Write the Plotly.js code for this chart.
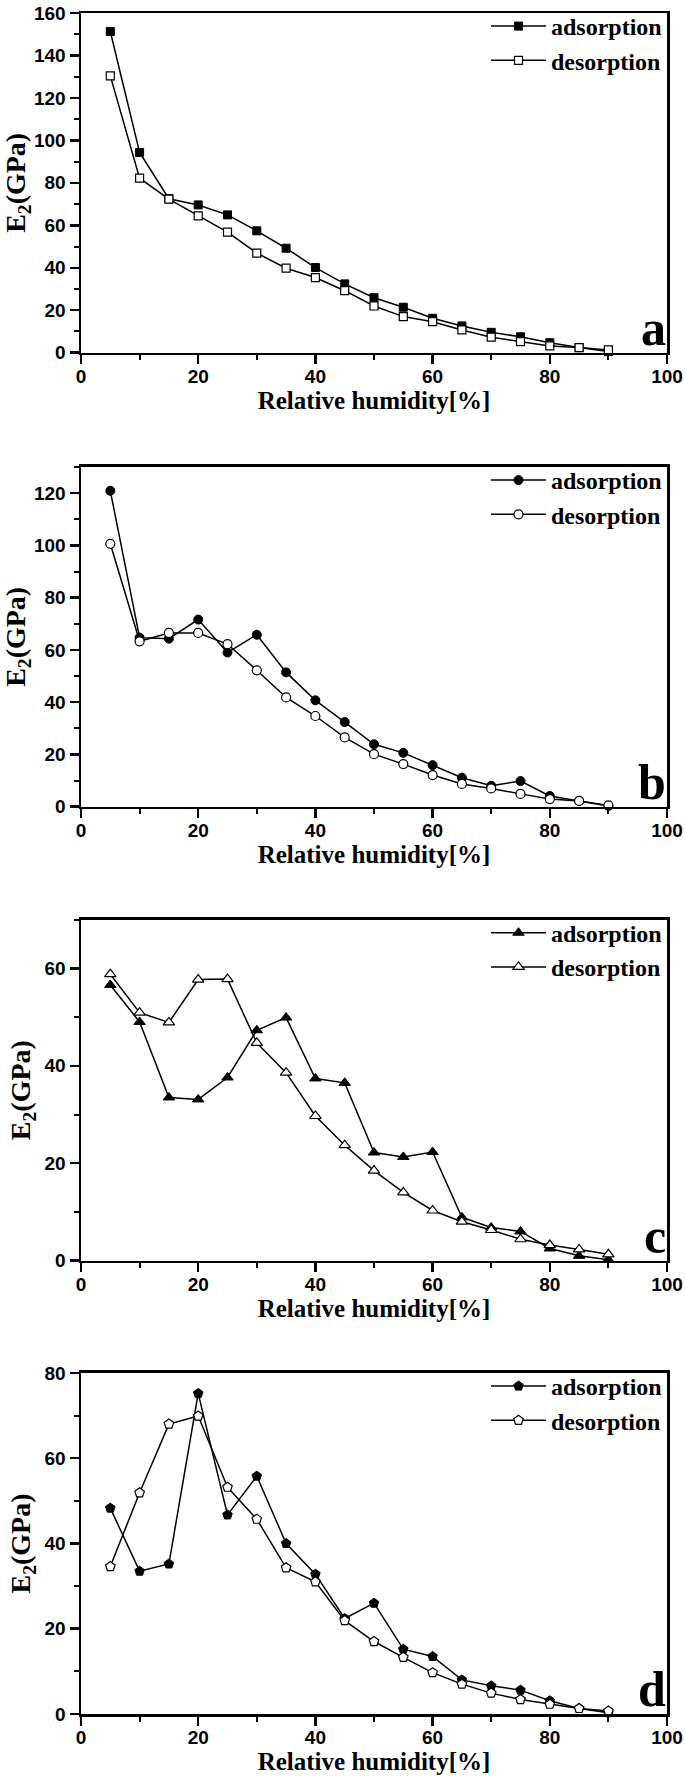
<!DOCTYPE html>
<html>
<head>
<meta charset="utf-8">
<script src="https://cdn.plot.ly/plotly-3.0.1.min.js"></script>
<style>html,body{margin:0;padding:0;background:#fff;}#chart{width:685px;height:1776px;}</style>
</head>
<body>
<div id="chart"></div>
<script>
// Relative humidity [%]
const humidity = [5,10,15,20,25,30,35,40,45,50,55,60,65,70,75,80,85,90];

// Panel a (squares)
const adsA = [151.3,94.3,72.5,69.6,64.9,57.4,49.2,40.1,32.4,25.9,21.4,16.2,12.6,9.6,7.5,4.7,2.4,0.5];
const desA = [130.4,82.2,72.3,64.4,56.8,46.9,39.8,35.4,29.2,22.0,17.0,14.6,10.7,7.3,5.2,3.2,2.4,1.3];
// Panel b (circles)
const adsB = [120.9,64.7,64.3,71.6,59.0,65.8,51.4,40.7,32.4,23.9,20.6,15.9,11.1,8.0,9.8,4.1,2.2,0.3];
const desB = [100.6,63.3,66.5,66.5,62.2,52.2,41.8,34.7,26.5,20.1,16.3,12.1,8.7,7.0,4.9,2.9,2.2,0.5];
// Panel c (triangles)
const adsC = [56.6,49.0,33.5,33.1,37.6,47.3,49.9,37.4,36.5,22.2,21.3,22.3,8.9,6.8,6.0,2.5,1.0,0.2];
const desC = [58.8,50.9,48.9,57.7,57.8,44.7,38.6,29.7,23.7,18.5,14.0,10.3,8.0,6.3,4.4,3.2,2.3,1.3];
// Panel d (pentagons)
const adsD = [48.3,33.5,35.2,75.2,46.7,55.8,40.0,32.8,22.4,26.0,15.2,13.5,8.0,6.6,5.6,3.1,1.3,0.3];
const desD = [34.6,51.9,68.0,69.9,53.2,45.7,34.3,31.0,21.9,17.0,13.3,9.7,7.0,4.9,3.4,2.3,1.3,0.7];

const seriesNames = ['adsorption','desorption'];
const panelLetters = ['a','b','c','d'];
const yMax = [160,130,70,80];

const panels = [
  {ads: adsA, des: desA, symbol: 'square', size: 8},
  {ads: adsB, des: desB, symbol: 'circle', size: 9},
  {ads: adsC, des: desC, symbol: 'triangle-up', size: 10},
  {ads: adsD, des: desD, symbol: 'pentagon', size: 10}
];
const domains = [[0.8003,1],[0.5334,0.7331],[0.2665,0.4670],[0,0.2005]];
const plotH = 1776 - 13 - 62;

const traces = [];
const layout = {
  width: 685, height: 1776,
  margin: {l: 81, r: 18, t: 13, b: 62, autoexpand: false},
  paper_bgcolor: '#fff', plot_bgcolor: '#fff',
  showlegend: true,
  annotations: []
};

const tickFont = {family: 'Liberation Sans, Arial, sans-serif', size: 19, weight: 700, color: '#000'};
const serifBold = (s) => ({family: 'Liberation Serif, Times New Roman, serif', size: s, weight: 700, color: '#000'});

panels.forEach((p, i) => {
  const n = i === 0 ? '' : String(i + 1);
  const legendId = 'legend' + n;
  const common = {x: humidity, xaxis: 'x' + n, yaxis: 'y' + n, mode: 'lines+markers',
    line: {color: '#000', width: 1.5}, cliponaxis: false, legend: legendId};
  traces.push(Object.assign({}, common, {y: p.ads, name: seriesNames[0],
    marker: {symbol: p.symbol, size: p.size, color: '#000', line: {color: '#000', width: 1}}}));
  traces.push(Object.assign({}, common, {y: p.des, name: seriesNames[1],
    marker: {symbol: p.symbol, size: p.size, color: '#fff', line: {color: '#000', width: 1.2}}}));

  const axBase = {
    showline: true, linewidth: 2.5, linecolor: '#000', mirror: true,
    ticks: 'outside', ticklen: 9, tickwidth: 2.5, tickcolor: '#000',
    minor: {dtick: 10, ticks: 'outside', ticklen: 5, tickwidth: 2, tickcolor: '#000'},
    showgrid: false, zeroline: false, tickfont: tickFont, automargin: false
  };
  layout['xaxis' + n] = Object.assign({}, axBase, {
    domain: [0, 1], anchor: 'y' + n, range: [0, 100], dtick: 20, tick0: 0,
    ticklabelstandoff: -4,
    title: {text: 'Relative humidity[%]', font: serifBold(25), standoff: 0}
  });
  layout['yaxis' + n] = Object.assign({}, axBase, {
    domain: domains[i], anchor: 'x' + n, range: [0, yMax[i]], dtick: 20, tick0: 0,
    title: {text: 'E<sub>2</sub>(GPa)', font: serifBold(28), standoff: 6}
  });
  layout[legendId] = {
    x: 1, xanchor: 'right', xref: 'paper',
    y: domains[i][1] + 9 / plotH, yanchor: 'top', yref: 'paper',
    bgcolor: 'rgba(0,0,0,0)', borderwidth: 0,
    font: serifBold(24), itemwidth: 55, tracegroupgap: 0
  };
  layout.annotations.push({
    text: panelLetters[i], xref: 'x' + n + ' domain', yref: 'y' + n + ' domain',
    x: 1, y: 0, xanchor: 'right', yanchor: 'bottom', showarrow: false,
    font: serifBold(50), yshift: -5, xshift: 1
  });
});

Plotly.newPlot('chart', traces, layout, {displayModeBar: false, staticPlot: true});
</script>
</body>
</html>
